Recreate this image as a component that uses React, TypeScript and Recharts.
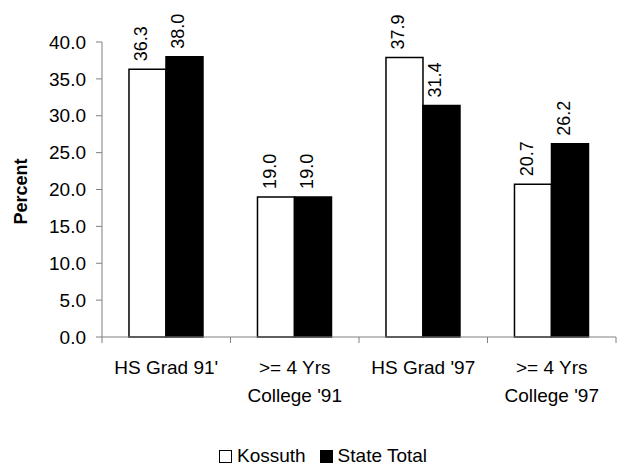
import { BarChart, Bar, XAxis, YAxis, Legend, LabelList } from 'recharts';

const categories = ["HS Grad 91'", ">= 4 Yrs\nCollege '91", "HS Grad '97", ">= 4 Yrs\nCollege '97"];
const kossuth = [36.3, 19.0, 37.9, 20.7];
const stateTotal = [38.0, 19.0, 31.4, 26.2];
const yTicks = [0, 5, 10, 15, 20, 25, 30, 35, 40];

const FONT = '"Liberation Sans", Arial, sans-serif';
const AXIS_GREY = '#808080';

const CHART_W = 619;
const CHART_H = 466;
const Y_AXIS_W = 102;
const MARGIN = { top: 42, right: 3, bottom: 0, left: 0 };
const LABEL_GAP = 24;
const bandWidth = (CHART_W - Y_AXIS_W - MARGIN.left - MARGIN.right) / categories.length;

const seriesFill: Record<string, string> = {
  Kossuth: '#ffffff',
  'State Total': '#000000',
};

const data = categories.map((name, i) => ({
  name,
  Kossuth: kossuth[i],
  'State Total': stateTotal[i],
}));

// label plus the small tick marks that sit between the categories
function CategoryTick({ x, y, payload, index }: any) {
  const lines = String(payload.value).split('\n');
  const axisY = y - LABEL_GAP;
  const left = x - bandWidth / 2;
  const right = x + bandWidth / 2;
  return (
    <g>
      <line x1={left} y1={axisY} x2={left} y2={axisY + 6} stroke={AXIS_GREY} />
      {index === categories.length - 1 && (
        <line x1={right} y1={axisY} x2={right} y2={axisY + 6} stroke={AXIS_GREY} />
      )}
      <text x={x} y={y} textAnchor="middle" fontSize={19} fontFamily={FONT} fill="#000">
        {lines.map((line, i) => (
          <tspan key={i} x={x} dy={i === 0 ? '0.71em' : 28}>
            {line}
          </tspan>
        ))}
      </text>
    </g>
  );
}

function ValueLabel({ x, y, width, value }: any) {
  const cx = x + width / 2;
  const cy = y - 8;
  return (
    <text
      x={cx}
      y={cy}
      transform={`rotate(-90, ${cx}, ${cy})`}
      textAnchor="start"
      fontSize={18}
      fontFamily={FONT}
      fill="#000"
    >
      {Number(value).toFixed(1)}
    </text>
  );
}

function PercentLabel({ viewBox }: any) {
  const x = viewBox.x + 27;
  const y = viewBox.y + viewBox.height / 2 + 2;
  return (
    <text
      x={x}
      y={y}
      transform={`rotate(-90, ${x}, ${y})`}
      textAnchor="middle"
      fontSize={18}
      fontWeight="bold"
      fontFamily={FONT}
      fill="#000"
    >
      Percent
    </text>
  );
}

function LegendContent({ payload }: any) {
  return (
    <div
      style={{
        display: 'flex',
        justifyContent: 'center',
        alignItems: 'center',
        height: 26,
        paddingLeft: 44,
        paddingTop: 3,
        fontFamily: FONT,
        fontSize: 19,
        color: '#000',
      }}
    >
      {(payload || []).map((entry: any) => (
        <div key={entry.value} style={{ display: 'flex', alignItems: 'center', marginRight: 14 }}>
          <span
            style={{
              display: 'inline-block',
              width: 11,
              height: 11,
              background: seriesFill[entry.value],
              border: '1.5px solid #000',
              marginRight: 5,
            }}
          />
          <span>{entry.value}</span>
        </div>
      ))}
    </div>
  );
}

export default function App() {
  return (
    <div style={{ position: 'absolute', left: 0, top: 0, background: '#fff' }}>
      <BarChart
        width={CHART_W}
        height={CHART_H}
        data={data}
        margin={MARGIN}
        barGap={0}
        barCategoryGap="21%"
      >
        <XAxis
          dataKey="name"
          interval={0}
          axisLine={{ stroke: AXIS_GREY }}
          tickLine={false}
          tickSize={0}
          tickMargin={LABEL_GAP}
          height={103}
          tick={<CategoryTick />}
        />
        <YAxis
          domain={[0, 40]}
          ticks={yTicks}
          width={Y_AXIS_W}
          tickSize={6}
          tickMargin={10}
          tickFormatter={(v: number) => v.toFixed(1)}
          tick={{ fontSize: 19, fontFamily: FONT, fill: '#000' }}
          axisLine={{ stroke: AXIS_GREY }}
          tickLine={{ stroke: AXIS_GREY }}
          label={<PercentLabel />}
        />
        <Legend verticalAlign="bottom" height={26} content={<LegendContent />} />
        <Bar
          dataKey="Kossuth"
          fill={seriesFill.Kossuth}
          stroke="#000"
          strokeWidth={1.5}
          isAnimationActive={false}
        >
          <LabelList dataKey="Kossuth" content={<ValueLabel />} />
        </Bar>
        <Bar
          dataKey="State Total"
          fill={seriesFill['State Total']}
          stroke="#000"
          strokeWidth={1.5}
          isAnimationActive={false}
        >
          <LabelList dataKey="State Total" content={<ValueLabel />} />
        </Bar>
      </BarChart>
    </div>
  );
}
